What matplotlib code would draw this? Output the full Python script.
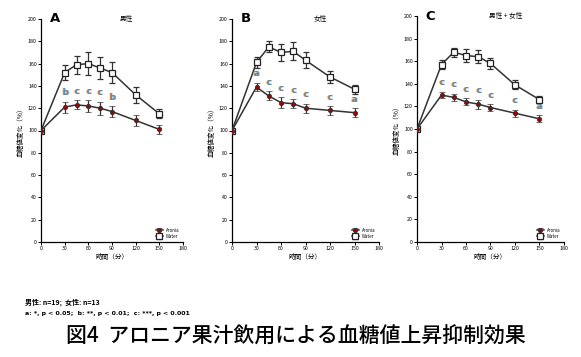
import matplotlib
matplotlib.use('Agg')
from matplotlib import pyplot as plt

plt.rcParams['font.family'] = ['Noto Sans CJK JP', 'DejaVu Sans']

times = [0, 30, 45, 60, 75, 90, 120, 150]

# A: 男性
water_m = [100, 152, 159, 160, 156, 152, 132, 115]
water_m_err = [0, 7, 8, 10, 10, 9, 7, 4]
aronia_m = [100, 121, 123, 122, 120, 117, 109, 101]
aronia_m_err = [0, 5, 4, 5, 6, 5, 5, 4]
sig_m = ['', 'b', 'c', 'c', 'c', 'b', '', '']

# B: 女性
water_f = [100, 161, 175, 170, 171, 163, 148, 137]
water_f_err = [0, 5, 5, 8, 8, 7, 5, 4]
aronia_f = [100, 139, 131, 125, 124, 120, 118, 116]
aronia_f_err = [0, 4, 4, 5, 4, 4, 4, 4]
sig_f = ['', 'a', 'c', 'c', 'c', 'c', 'c', 'a']

# C: 男性 + 女性
water_all = [100, 157, 168, 165, 164, 158, 139, 126]
water_all_err = [0, 4, 4, 6, 6, 5, 4, 3]
aronia_all = [100, 130, 128, 124, 122, 119, 114, 109]
aronia_all_err = [0, 3, 3, 3, 4, 3, 3, 3]
sig_all = ['', 'c', 'c', 'c', 'c', 'c', 'c', 'a']

panels = [
    ('A', '男性', water_m, water_m_err, aronia_m, aronia_m_err, sig_m),
    ('B', '女性', water_f, water_f_err, aronia_f, aronia_f_err, sig_f),
    ('C', '男性 + 女性', water_all, water_all_err, aronia_all, aronia_all_err, sig_all),
]

W, H = 581, 357
fig = plt.figure(figsize=(W / 100, H / 100), dpi=100)

# axes rects in pixels: left, top(y=200), right(x=180), bottom(y=0)
rects = [(41, 19, 183, 242), (232, 19, 379, 242), (417, 16, 564, 242)]

for (letter, title, wv, we, av, ae, sig), (l, t, r, b) in zip(panels, rects):
    ax = fig.add_axes([l / W, 1 - b / H, (r - l) / W, (b - t) / H])
    ax.errorbar(times, wv, yerr=we, color='#333333', lw=1.1, marker='s', ms=4,
                mfc='white', mec='#222222', mew=0.9, ecolor='#333333', elinewidth=0.9,
                capsize=2, capthick=0.9, label='Water', zorder=3)
    ax.errorbar(times, av, yerr=ae, color='#333333', lw=1.1, marker='o', ms=3.2,
                mfc='#8b0a0a', mec='#333333', mew=0.5, ecolor='#333333', elinewidth=0.9,
                capsize=2, capthick=0.9, label='Aronia', zorder=4)
    for tx, a, e, s in zip(times, av, ae, sig):
        if s:
            ax.text(tx - 0.5, a + e + 4, s, ha='center', va='bottom', fontsize=6.5,
                    color='#e8922a', fontweight='bold', family='DejaVu Sans')
            ax.text(tx + 0.7, a + e + 4, s, ha='center', va='bottom', fontsize=6.5,
                    color='#2a7bd0', fontweight='bold', family='DejaVu Sans', alpha=0.75)
    ax.set_xlim(0, 180)
    ax.set_ylim(0, 200)
    ax.set_xticks(range(0, 181, 30))
    ax.set_yticks(range(0, 201, 20))
    ax.tick_params(labelsize=3.8, length=2, width=0.7, pad=1)
    for sp in ['top', 'right']:
        ax.spines[sp].set_visible(False)
    for sp in ['left', 'bottom']:
        ax.spines[sp].set_linewidth(0.9)
    ax.set_xlabel('時間（分）', fontsize=4.8, labelpad=1)
    ax.set_ylabel('血糖値変化（%）', fontsize=4.8, labelpad=2)
    ax.text(0.06, 1.0, letter, transform=ax.transAxes, fontsize=9.5, fontweight='bold',
            family='DejaVu Sans', va='center', ha='left')
    ax.text(0.6, 1.0, title, transform=ax.transAxes, fontsize=4.8, va='center', ha='center')
    h, lb = ax.get_legend_handles_labels()
    ax.legend(h[::-1], lb[::-1], loc='lower right', fontsize=3.2, frameon=False,
              handlelength=1.5, borderaxespad=0.3, labelspacing=0.2,
              bbox_to_anchor=(1.0, 0.0))

fig.text(25 / W, 1 - 302 / H, '男性: n=19;  女性: n=13', fontsize=5, fontweight='bold',
         va='center', ha='left')
fig.text(25 / W, 1 - 313 / H, 'a: *, p < 0.05;  b: **, p < 0.01;  c: ***, p < 0.001',
         fontsize=4.5, fontweight='bold', va='center', ha='left', family='DejaVu Sans')
fig.text(0.51, 1 - 337 / H, '図4  アロニア果汁飲用による血糖値上昇抑制効果', fontsize=15,
         fontweight='medium', va='center', ha='center')

plt.savefig('out.png', dpi=100)
